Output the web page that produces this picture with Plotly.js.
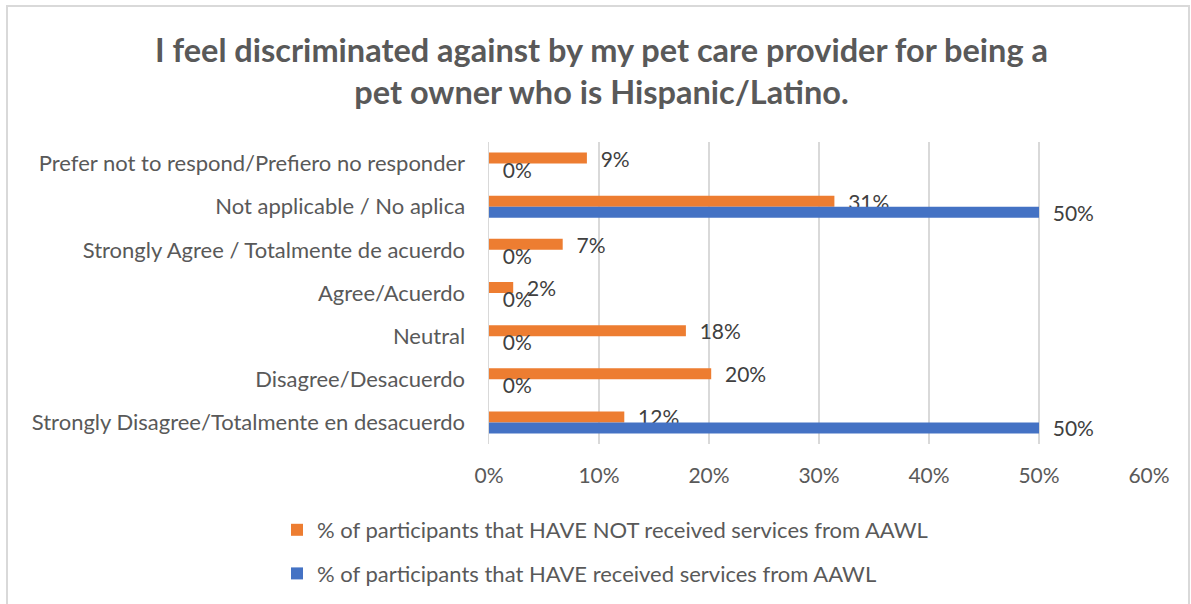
<!DOCTYPE html>
<html>
<head>
<meta charset="utf-8">
<script src="https://cdn.plot.ly/plotly-3.0.1.min.js"></script>
<style>
html,body{margin:0;padding:0;background:#fff;}
#chart{width:1191px;height:604px;}
</style>
</head>
<body>
<div id="chart"></div>
<script>
var categories = [
  "Prefer not to respond/Prefiero no responder",
  "Not applicable / No aplica",
  "Strongly Agree / Totalmente de acuerdo",
  "Agree/Acuerdo",
  "Neutral",
  "Disagree/Desacuerdo",
  "Strongly Disagree/Totalmente en desacuerdo"
];
var haveNotValues = [0.089, 0.314, 0.067, 0.022, 0.179, 0.202, 0.123];
var haveValues = [0, 0.50, 0, 0, 0, 0, 0.50];
var seriesNames = [
  "% of participants that HAVE NOT received services from AAWL",
  "% of participants that HAVE received services from AAWL"
];
var xTickVals = [0, 0.1, 0.2, 0.3, 0.4, 0.5, 0.6];
var xTickText = ["0%", "10%", "20%", "30%", "40%", "50%", "60%"];
var titleText = "I feel discriminated against by my pet care provider for being a<br>pet owner who is Hispanic/Latino.";

var FONT = "Lato, 'Open Sans', sans-serif";
var W = 1191, H = 604;
var M = {l: 489, r: 42, t: 142, b: 160, autoexpand: false};
var pw = W - M.l - M.r, ph = H - M.t - M.b;
function px2x(p){ return (p - M.l) / pw; }
function py2y(p){ return (H - M.b - p) / ph; }

var labelFont = {family: FONT, size: 21, color: "#404040"};

var traces = [
  {
    type: "bar", orientation: "h", name: seriesNames[0],
    y: categories, x: haveNotValues,
    marker: {color: "#ED7D31"},
    text: haveNotValues.map(function(v){ return "\u00a0\u00a0" + Math.round(v*100) + "%"; }),
    textposition: "outside", constraintext: "none", textfont: labelFont, cliponaxis: false,
    hoverinfo: "x+y", legendgroup: "a"
  },
  {
    type: "bar", orientation: "h", name: seriesNames[1],
    y: categories, x: haveValues,
    marker: {color: "#4472C4"},
    text: haveValues.map(function(v){ return "\u00a0\u00a0" + Math.round(v*100) + "%"; }),
    textposition: "outside", constraintext: "none", textfont: labelFont, cliponaxis: false,
    hoverinfo: "x+y", legendgroup: "b"
  }
];

var layout = {
  width: W, height: H,
  margin: M,
  paper_bgcolor: "#fff", plot_bgcolor: "#fff",
  font: {family: FONT, color: "#595959", size: 21},
  title: {
    text: titleText,
    font: {family: FONT, size: 32.5, color: "#595959", weight: "bold"},
    x: 0.505, xref: "container", xanchor: "center",
    y: 0.898, yref: "container", yanchor: "middle"
  },
  barmode: "group",
  bargap: 0.49,
  bargroupgap: 0,
  showlegend: true,
  legend: {
    x: px2x(277), xanchor: "left",
    y: py2y(509), yanchor: "top",
    orientation: "v",
    traceorder: "grouped",
    tracegroupgap: 12,
    font: {family: FONT, size: 22, color: "#595959"},
    bgcolor: "rgba(0,0,0,0)"
  },
  xaxis: {
    range: [0, 0.6],
    tickvals: xTickVals, ticktext: xTickText,
    showgrid: true, gridcolor: "#D9D9D9", gridwidth: 1.5,
    zeroline: false, showline: false,
    ticks: "", ticklabelstandoff: 17,
    tickfont: {family: FONT, size: 21, color: "#595959"},
    fixedrange: true
  },
  yaxis: {
    autorange: "reversed",
    type: "category",
    showgrid: false, zeroline: false,
    showline: true, linecolor: "#D9D9D9", linewidth: 1.5,
    ticks: "", ticklabelstandoff: 18,
    tickfont: {family: FONT, size: 22, color: "#595959"},
    fixedrange: true
  },
  shapes: [
    {
      type: "rect", xref: "paper", yref: "paper",
      x0: px2x(7), x1: px2x(1189), y0: py2y(6), y1: py2y(610),
      line: {color: "#D9D9D9", width: 2}, fillcolor: "rgba(0,0,0,0)", layer: "below"
    }
  ]
};

Plotly.newPlot("chart", traces, layout, {displayModeBar: false, staticPlot: true});
</script>
</body>
</html>
